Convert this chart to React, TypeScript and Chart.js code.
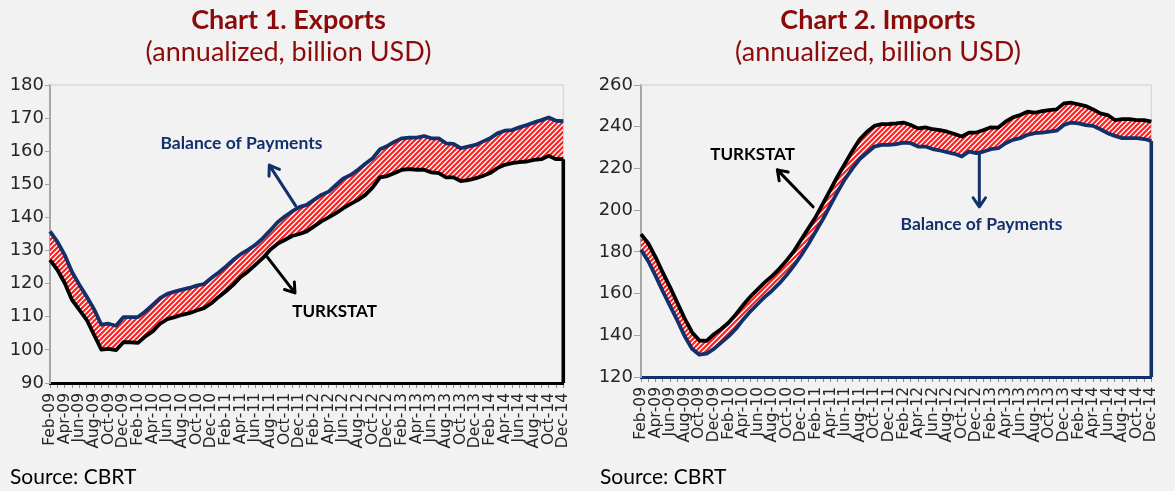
import React, { useEffect, useRef } from 'react';
import { Chart, registerables } from 'chart.js';

Chart.register(...registerables);

// ---------- data ----------
const monthNames = ['Jan', 'Feb', 'Mar', 'Apr', 'May', 'Jun', 'Jul', 'Aug', 'Sep', 'Oct', 'Nov', 'Dec'];
const yearSuffixes = ['09', '10', '11', '12', '13', '14'];
// Feb-09 ... Dec-14 (monthly)
const months: string[] = yearSuffixes.flatMap((y) => monthNames.map((m) => `${m}-${y}`)).slice(1);

const exportsBoP = [
  135.8, 132.7, 128.7, 123.5, 119.7, 116.1, 112.3, 107.6, 107.9, 107.3,
  109.9, 109.9, 109.9, 111.6, 113.6, 115.6, 116.9, 117.6, 118.2, 118.7,
  119.4, 119.9, 121.7, 123.4, 125.2, 127.2, 128.9, 130.2, 131.7, 133.7,
  136.0, 138.5, 140.3, 141.8, 143.1, 143.8, 145.3, 146.8, 147.8, 149.8,
  151.8, 152.8, 154.4, 156.2, 157.9, 160.6, 161.6, 162.9, 163.9, 164.1,
  164.1, 164.6, 163.9, 163.9, 162.4, 162.2, 160.9, 161.4, 161.9, 162.9,
  163.9, 165.4, 166.2, 166.4, 167.2, 167.9, 168.7, 169.4, 170.2, 169.2,
  169.1,
];
const exportsTurkstat = [
  127.2, 124.2, 120.2, 115.1, 112.1, 109.1, 104.6, 100.1, 100.3, 99.9,
  102.3, 102.3, 102.1, 104.1, 105.6, 107.9, 109.3, 109.9, 110.6, 111.1,
  111.9, 112.6, 114.1, 116.0, 117.7, 119.7, 122.0, 123.7, 125.7, 127.7,
  130.2, 132.0, 133.2, 134.4, 135.0, 135.8, 137.3, 138.8, 140.0, 141.3,
  142.8, 144.1, 145.3, 146.8, 149.1, 152.1, 152.5, 153.4, 154.4, 154.6,
  154.4, 154.4, 153.6, 153.4, 152.1, 152.1, 151.0, 151.3, 151.8, 152.5,
  153.4, 154.9, 155.9, 156.4, 156.7, 156.9, 157.4, 157.6, 158.6, 157.6,
  157.6,
];
const importsTurkstat = [
  188.5, 184.0, 177.5, 170.0, 163.0, 155.5, 148.0, 141.5, 137.5, 137.3,
  140.5, 143.0, 146.0, 150.0, 154.5, 158.5, 162.0, 165.5, 168.5, 172.0,
  176.0, 180.5, 186.0, 191.5, 197.0, 203.5, 210.0, 216.5, 222.5, 228.5,
  234.0, 237.6, 240.4, 241.2, 241.3, 241.6, 242.0, 240.8, 239.2, 239.7,
  238.8, 238.4, 237.6, 236.5, 235.3, 237.2, 237.2, 238.4, 239.7, 239.6,
  242.4, 244.5, 245.6, 247.2, 246.7, 247.5, 248.0, 248.3, 251.2, 251.5,
  250.7, 249.9, 248.3, 246.4, 245.6, 243.2, 243.6, 243.6, 243.2, 243.2,
  242.4,
];
const importsBoP = [
  181.0, 175.5, 168.5, 161.0, 154.0, 147.0, 139.5, 133.5, 130.7, 131.2,
  133.5, 136.5, 139.5, 143.0, 147.5, 151.5, 155.0, 158.5, 161.5, 165.0,
  169.0, 173.5, 178.5, 184.0, 190.0, 196.0, 202.5, 209.0, 215.0, 220.0,
  224.5, 227.5, 230.5, 231.3, 231.3, 231.7, 232.4, 232.1, 230.5, 230.5,
  229.3, 228.6, 227.8, 227.0, 225.7, 228.1, 227.3, 228.1, 229.2, 229.7,
  232.1, 233.7, 234.5, 236.1, 236.9, 237.2, 237.6, 238.1, 240.8, 242.0,
  241.6, 240.8, 240.4, 238.8, 236.9, 235.6, 234.5, 234.5, 234.5, 234.1,
  233.2,
];

const exportsAxis = { min: 90, max: 180, step: 10 };
const importsAxis = { min: 120, max: 260, step: 20 };

type Note = { text: string; color: string; at: [number, number]; from: [number, number]; to: [number, number] };
// annotation positions in data coordinates: [month index, value]
const exportsNotes: Note[] = [
  { text: 'Balance of Payments', color: '#14306b', at: [26.1, 162.5], from: [33.5, 143.5], to: [29.9, 155.8] },
  { text: 'TURKSTAT', color: '#000000', at: [38.8, 111.7], from: [29.5, 128.4], to: [33.4, 117.2] },
];
const importsNotes: Note[] = [
  { text: 'TURKSTAT', color: '#000000', at: [15.3, 226.5], from: [23.6, 201.6], to: [18.7, 219.3] },
  { text: 'Balance of Payments', color: '#14306b', at: [46.7, 193.0], from: [46.4, 227.4], to: [46.4, 201.6] },
];

const NAVY = '#14306b';
const TITLE_RED = '#8b0a0a';
const TICK_FONT = "'DejaVu Sans'";
const TEXT_FONT = 'Lato';

function makeHatch(ctx: CanvasRenderingContext2D) {
  const s = 5;
  const c = document.createElement('canvas');
  c.width = s;
  c.height = s;
  const g = c.getContext('2d')!;
  g.fillStyle = '#ffffff';
  g.fillRect(0, 0, s, s);
  g.strokeStyle = '#ff1f1f';
  g.lineWidth = 2.2;
  g.beginPath();
  g.moveTo(-2, s + 2);
  g.lineTo(s + 2, -2);
  g.moveTo(-2, 2);
  g.lineTo(2, -2);
  g.moveTo(s - 2, s + 2);
  g.lineTo(s + 2, s - 2);
  g.stroke();
  return ctx.createPattern(c, 'repeat')!;
}

const borderPlugin = {
  id: 'areaBorder',
  beforeDatasetsDraw(chart: any) {
    const { ctx, chartArea: a } = chart;
    ctx.save();
    ctx.strokeStyle = '#d9d9d9';
    ctx.lineWidth = 1.5;
    ctx.beginPath();
    ctx.moveTo(a.left, a.top);
    ctx.lineTo(a.right, a.top);
    ctx.lineTo(a.right, a.bottom);
    ctx.stroke();
    ctx.restore();
  },
};

function notesPlugin(notes: Note[]) {
  return {
    id: 'notes',
    afterDatasetsDraw(chart: any) {
      const { ctx } = chart;
      const xs = chart.scales.x;
      const ys = chart.scales.y;
      const px = (p: [number, number]) => [xs.getPixelForValue(p[0]), ys.getPixelForValue(p[1])];
      ctx.save();
      for (const n of notes) {
        const [x1, y1] = px(n.from);
        const [x2, y2] = px(n.to);
        ctx.strokeStyle = n.color;
        ctx.lineWidth = 3;
        ctx.lineCap = 'round';
        ctx.lineJoin = 'round';
        ctx.beginPath();
        ctx.moveTo(x1, y1);
        ctx.lineTo(x2, y2);
        const ang = Math.atan2(y2 - y1, x2 - x1);
        const L = 11;
        for (const d of [-0.6, 0.6]) {
          ctx.moveTo(x2, y2);
          ctx.lineTo(x2 - L * Math.cos(ang + d), y2 - L * Math.sin(ang + d));
        }
        ctx.stroke();
        const [tx, ty] = px(n.at);
        ctx.fillStyle = n.color;
        ctx.font = `bold ${n.text.length > 10 ? 17.5 : 17}px ${TEXT_FONT}`;
        ctx.textAlign = 'center';
        ctx.textBaseline = 'middle';
        ctx.fillText(n.text, tx, ty);
      }
      ctx.restore();
    },
  };
}

type PanelSpec = {
  upper: number[];
  lower: number[];
  upperColor: string;
  lowerColor: string;
  upperLabel: string;
  lowerLabel: string;
  axis: { min: number; max: number; step: number };
  notes: Note[];
  yWidth: number;
  yTick: number;
  padRight: number;
  bottom: number;
};

function buildChart(canvas: HTMLCanvasElement, p: PanelSpec) {
  const ctx = canvas.getContext('2d')!;
  const hatch = makeHatch(ctx);
  const last = months[months.length - 1];
  return new Chart(canvas, {
    type: 'line',
    data: {
      labels: months,
      datasets: [
        {
          label: p.upperLabel,
          data: p.upper,
          borderColor: p.upperColor,
          borderWidth: 3.8,
          pointRadius: 0,
          tension: 0,
          fill: false,
          borderJoinStyle: 'round',
        },
        {
          label: p.lowerLabel,
          data: p.lower,
          borderColor: p.lowerColor,
          borderWidth: 3.8,
          pointRadius: 0,
          tension: 0,
          fill: '-1',
          backgroundColor: hatch,
          borderJoinStyle: 'round',
        },
        {
          label: 'drop',
          data: [
            { x: last, y: p.lower[p.lower.length - 1] },
            { x: last, y: p.axis.min },
          ] as any,
          borderColor: p.lowerColor,
          borderWidth: 3.8,
          pointRadius: 0,
          fill: false,
        },
      ],
    },
    options: {
      animation: false,
      responsive: false,
      devicePixelRatio: 1,
      events: [],
      layout: { padding: { top: 85, right: p.padRight, left: 0, bottom: 0 } },
      plugins: { legend: { display: false }, tooltip: { enabled: false }, title: { display: false } },
      scales: {
        x: {
          type: 'category',
          offset: false,
          grid: {
            drawOnChartArea: false,
            drawTicks: true,
            tickLength: 5,
            lineWidth: 1,
            color: '#8c8c8c',
            tickColor: '#8c8c8c',
          },
          border: { color: p.lowerColor, width: 3 },
          ticks: {
            autoSkip: false,
            minRotation: 90,
            maxRotation: 90,
            padding: 5,
            color: '#262626',
            font: { family: TICK_FONT, size: 15.5 },
            callback: (_v: any, i: number) => (i % 2 === 0 ? months[i] : ''),
          },
          afterFit: (s: any) => {
            s.height = 491 - p.bottom;
          },
        },
        y: {
          min: p.axis.min,
          max: p.axis.max,
          grid: { drawOnChartArea: false, drawTicks: true, tickLength: p.yTick, color: '#a6a6a6', tickColor: '#a6a6a6' },
          border: { color: '#a6a6a6', width: 2 },
          ticks: {
            stepSize: p.axis.step,
            padding: 1,
            color: '#262626',
            font: { family: TICK_FONT, size: 18 },
          },
          afterFit: (s: any) => {
            s.width = p.yWidth;
          },
        },
      },
    },
    plugins: [borderPlugin, notesPlugin(p.notes)],
  });
}

const titleStyle = (left: number, width: number, top: number, bold: boolean): React.CSSProperties => ({
  position: 'absolute',
  left,
  width,
  top,
  textAlign: 'center',
  fontFamily: TEXT_FONT,
  fontSize: 27,
  lineHeight: '27px',
  fontWeight: bold ? 700 : 400,
  color: TITLE_RED,
  whiteSpace: 'nowrap',
});

const sourceStyle = (left: number): React.CSSProperties => ({
  position: 'absolute',
  left,
  top: 465,
  fontFamily: TEXT_FONT,
  fontSize: 21,
  lineHeight: '21px',
  color: '#000',
  whiteSpace: 'nowrap',
});

export default function App() {
  const c1 = useRef<HTMLCanvasElement>(null);
  const c2 = useRef<HTMLCanvasElement>(null);

  useEffect(() => {
    const ch1 = buildChart(c1.current!, {
      upper: exportsBoP,
      lower: exportsTurkstat,
      upperColor: NAVY,
      lowerColor: '#000000',
      upperLabel: 'Balance of Payments',
      lowerLabel: 'TURKSTAT',
      axis: exportsAxis,
      notes: exportsNotes,
      yWidth: 50,
      yTick: 5,
      padRight: 15,
      bottom: 383,
    });
    const ch2 = buildChart(c2.current!, {
      upper: importsTurkstat,
      lower: importsBoP,
      upperColor: '#000000',
      lowerColor: NAVY,
      upperLabel: 'TURKSTAT',
      lowerLabel: 'Balance of Payments',
      axis: importsAxis,
      notes: importsNotes,
      yWidth: 54,
      yTick: 7,
      padRight: 12,
      bottom: 377,
    });
    return () => {
      ch1.destroy();
      ch2.destroy();
    };
  }, []);

  return (
    <div
      style={{
        position: 'fixed',
        left: 0,
        top: 0,
        width: 1175,
        height: 491,
        background: '#f2f2f2',
        overflow: 'hidden',
      }}
    >
      <canvas ref={c1} width={587} height={491} style={{ position: 'absolute', left: 0, top: 0 }} />
      <canvas ref={c2} width={588} height={491} style={{ position: 'absolute', left: 587, top: 0 }} />
      <div style={titleStyle(0, 577, 5, true)}>Chart 1. Exports</div>
      <div style={titleStyle(0, 577, 37, false)}>(annualized, billion USD)</div>
      <div style={titleStyle(587, 582, 5, true)}>Chart 2. Imports</div>
      <div style={titleStyle(587, 582, 37, false)}>(annualized, billion USD)</div>
      <div style={sourceStyle(10)}>Source: CBRT</div>
      <div style={sourceStyle(600)}>Source: CBRT</div>
    </div>
  );
}
